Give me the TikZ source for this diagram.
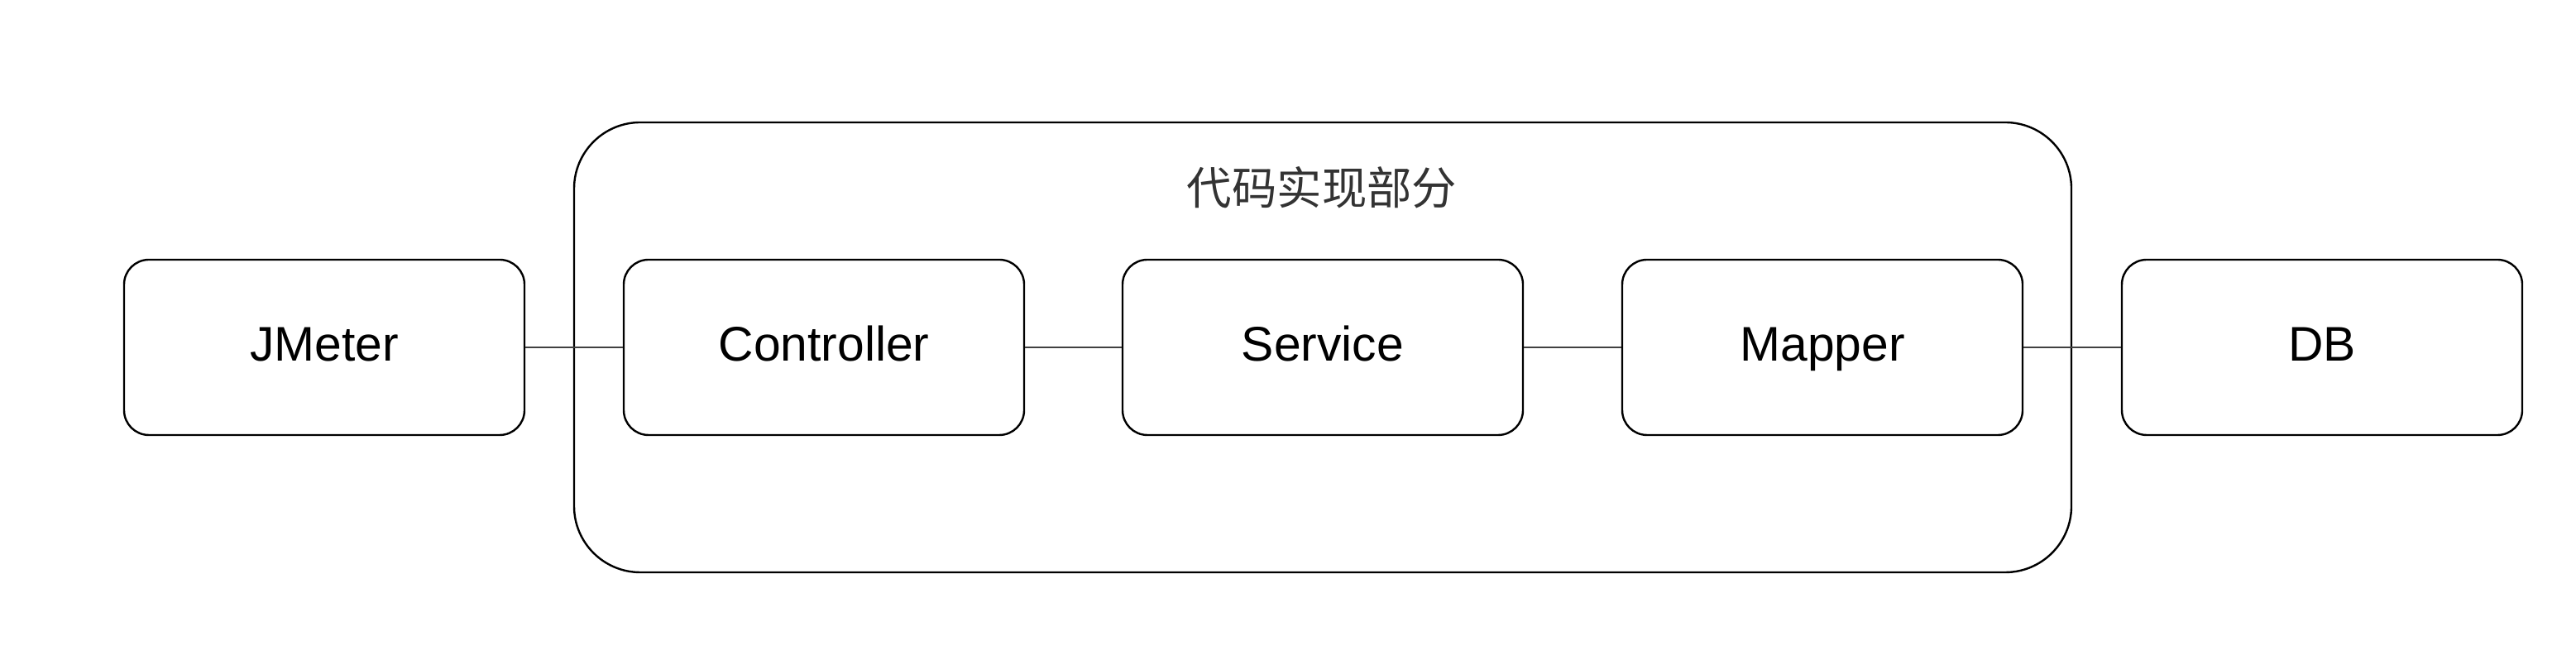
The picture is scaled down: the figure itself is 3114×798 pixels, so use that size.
\documentclass[tikz,border=0pt]{standalone}
\usepackage{fontspec}
\setmainfont{Liberation Sans}
\newfontfamily\cjk{Noto Sans CJK SC}
\begin{document}
\begin{tikzpicture}[x=0.25pt,y=-0.25pt,
  box/.style={draw=black,line width=0.6pt,rounded corners=7.5pt,fill=white,
    minimum width=121pt,minimum height=53pt,inner sep=0pt,
    text height=11.7pt,text depth=3.2pt,
    font=\fontsize{14.7}{18}\selectfont},
  container/.style={draw=black,line width=0.6pt,rounded corners=20pt,
    minimum width=452.5pt,minimum height=136pt,inner sep=0pt},
  link/.style={draw=black!75,line width=0.6pt},
  title/.style={text=black!80,font=\cjk\fontsize{13.6}{16}\selectfont,inner sep=0pt}]
\useasboundingbox (0,0) rectangle (3114,798);
\node[container] (code) at (1599,420) {};
\node[title] (t) at (1598,227) {代码实现部分};
\node[box] (jm) at (392,420) {JMeter};
\node[box] (ctl) at (996,420) {Controller};
\node[box] (svc) at (1599,420) {Service};
\node[box] (map) at (2203,420) {Mapper};
\node[box] (db) at (2807,420) {DB};
\draw[link] (jm.east) -- (ctl.west);
\draw[link] (ctl.east) -- (svc.west);
\draw[link] (svc.east) -- (map.west);
\draw[link] (map.east) -- (db.west);
\end{tikzpicture}
\end{document}
